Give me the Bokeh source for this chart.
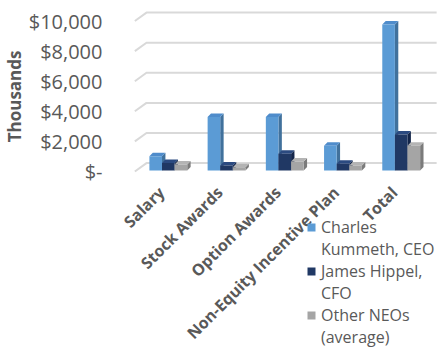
import math
from bokeh.plotting import figure
from bokeh.models import Range1d, FixedTicker, Legend, LegendItem, LinearAxis, Title
from bokeh.embed import file_html
from bokeh.resources import INLINE

# ---- data (thousands of $) ----
categories = ["Salary", "Stock Awards", "Option Awards", "Non-Equity Incentive Plan", "Total"]
ceo = [950, 3550, 3550, 1650, 9700]
cfo = [500, 330, 1110, 450, 2400]
other = [400, 220, 600, 330, 1650]
series_names = ["Charles Kummeth, CEO", "James Hippel, CFO", "Other NEOs (average)"]
legend_lines = [["Charles", "Kummeth, CEO"], ["James Hippel,", "CFO"], ["Other NEOs", "(average)"]]
y_ticks = [0, 2000, 4000, 6000, 8000, 10000]
y_tick_labels = ["$-", "$2,000", "$4,000", "$6,000", "$8,000", "$10,000"]

# ---- styles ----
front_colors = ["#5b9bd5", "#203864", "#a5a5a5"]
top_colors = ["#4f8ccb", "#2b4a80", "#b4b4b4"]
side_colors = ["#41719c", "#14264a", "#7b7b7b"]
TEXT = "#595959"
GRID = "#d9d9d9"
FONT = "Open Sans"

W, H = 440, 348
LEFT = 103
PX_X = 60.0            # pixels per category step
PX_V = 150.5 / 10000   # pixels per value unit
ZERO_PX = 171.0        # y pixel (from top) of value 0 at front
X0_PX = 152.5          # x pixel of first category tick
GROUP_SHIFT = 7 / PX_X # bars sit a little right of the label anchor
XAXIS_PX = 179.0       # y pixel of the category axis

x_start = (LEFT - X0_PX) / PX_X
x_end = (W - X0_PX) / PX_X
y_end = ZERO_PX / PX_V
y_start = (ZERO_PX - H) / PX_V

p = figure(width=W, height=H, output_backend="svg", toolbar_location=None,
           x_range=Range1d(x_start, x_end), y_range=Range1d(y_start, y_end),
           x_axis_location=None,
           min_border_left=LEFT, min_border_right=0, min_border_top=0,
           min_border_bottom=0)
p.outline_line_color = None
p.grid.visible = False
p.background_fill_color = "white"
p.border_fill_color = "white"

# ---- back gridlines with 3D floor offset ----
GDX = 12 / PX_X
GDY = 8.4 / PX_V
g_front_x = (125 - X0_PX) / PX_X
g_right_x = (436 - X0_PX) / PX_X
gx, gy = [], []
for t in y_ticks:
    gx.append([g_front_x, g_front_x + GDX, g_right_x])
    gy.append([t, t + GDY, t + GDY])
p.multi_line(gx, gy, line_color=GRID, line_width=2)

# ---- 3D bars ----
BAR_W = 13 / PX_X
DX = 3.5 / PX_X
DY = 3.5 / PX_V
BASE = 1.0 / PX_V
offsets = [-BAR_W, 0.0, BAR_W]

legend_items = []
for s, vals in enumerate([ceo, cfo, other]):
    left, right, bottom, top = [], [], [], []
    tx, ty, sx, sy = [], [], [], []
    for i, v in enumerate(vals):
        xc = i + GROUP_SHIFT + offsets[s]
        l, r = xc - BAR_W / 2, xc + BAR_W / 2
        b, t = BASE, BASE + v
        left.append(l); right.append(r); bottom.append(b); top.append(t)
        tx.append([l, r, r + DX, l + DX]); ty.append([t, t, t + DY, t + DY])
        sx.append([r, r + DX, r + DX, r]); sy.append([b, b + DY, t + DY, t])
    p.patches(sx, sy, fill_color=side_colors[s], line_color=None)
    p.patches(tx, ty, fill_color=top_colors[s], line_color=None)
    fr = p.quad(left=left, right=right, bottom=bottom, top=top,
                fill_color=front_colors[s], line_color=None)
    legend_items.append(LegendItem(label=legend_lines[s][0], renderers=[fr]))
    # continuation line of the wrapped legend label (no swatch)
    blank = p.quad(left=[], right=[], bottom=[], top=[],
                   fill_alpha=0, line_alpha=0)
    legend_items.append(LegendItem(label=legend_lines[s][1], renderers=[blank]))

# ---- axes ----
ya = p.yaxis[0]
ya.ticker = FixedTicker(ticks=y_ticks)
ya.major_label_overrides = {t: lab for t, lab in zip(y_ticks, y_tick_labels)}
ya.axis_line_color = None
ya.major_tick_line_color = None
ya.minor_tick_line_color = None
ya.major_label_standoff = 5
ya.major_label_text_font = FONT
ya.major_label_text_font_size = "20px"
ya.major_label_text_color = TEXT

ytitle = Title(text="Thousands", align="right", offset=50, standoff=0,
               text_font=FONT, text_font_style="bold", text_font_size="17px",
               text_color=TEXT)
p.add_layout(ytitle, "left")

xa = LinearAxis(fixed_location=(ZERO_PX - XAXIS_PX) / PX_V)
xa.ticker = FixedTicker(ticks=list(range(len(categories))))
xa.major_label_overrides = {i: c for i, c in enumerate(categories)}
xa.axis_line_color = None
xa.major_tick_line_color = None
xa.minor_tick_line_color = None
xa.major_label_orientation = math.pi / 4
xa.major_label_standoff = 4
xa.major_label_text_font = FONT
xa.major_label_text_font_style = "bold"
xa.major_label_text_font_size = "16px"
xa.major_label_text_color = TEXT
p.add_layout(xa, "below")

# ---- legend ----
legend = Legend(items=legend_items, location=(296 - LEFT, 0),
                orientation="vertical", glyph_width=10, glyph_height=10,
                label_standoff=5, label_height=21, spacing=0, padding=0, margin=0,
                label_text_font=FONT, label_text_font_size="16px",
                label_text_color=TEXT,
                border_line_color=None, background_fill_alpha=0)
p.add_layout(legend, "center")

open("out.html", "w").write(file_html(p, INLINE))
